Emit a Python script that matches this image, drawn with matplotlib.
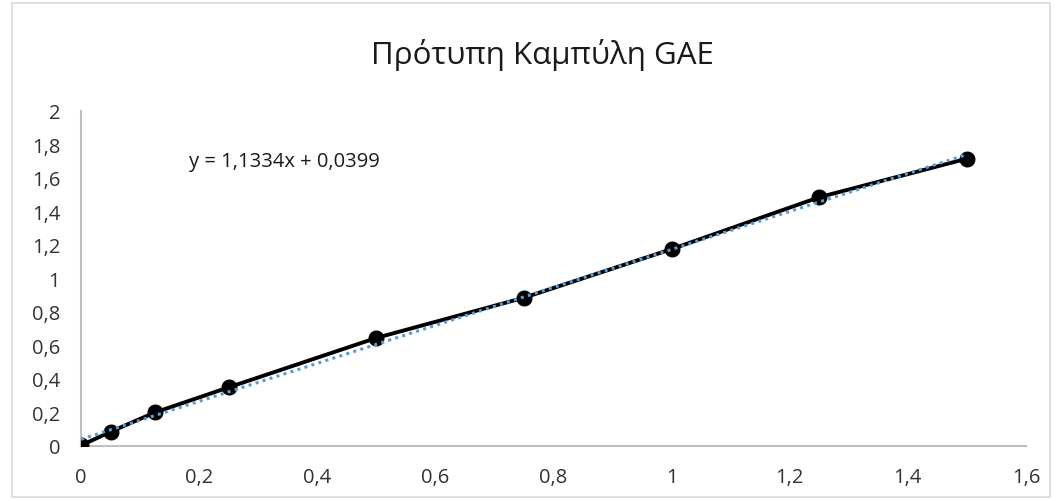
import numpy as np
import matplotlib
matplotlib.use("Agg")
import matplotlib.pyplot as plt
from matplotlib.patches import Rectangle

plt.rcParams['font.family'] = ['Open Sans', 'DejaVu Sans']

# data
conc = [0, 0.05, 0.125, 0.25, 0.5, 0.75, 1.0, 1.25, 1.5]
absorb = [0.003, 0.085, 0.2, 0.35, 0.645, 0.885, 1.175, 1.485, 1.715]
slope = 1.1334
intercept = 0.0399
x_ticks = [0, 0.2, 0.4, 0.6, 0.8, 1.0, 1.2, 1.4, 1.6]
y_ticks = [0, 0.2, 0.4, 0.6, 0.8, 1.0, 1.2, 1.4, 1.6, 1.8, 2.0]

def comma(v):
    s = ('%.1f' % v).rstrip('0').rstrip('.')
    return s.replace('.', ',')

fig = plt.figure(figsize=(10.62, 5.02), dpi=100)
ax = fig.add_axes([0.0763, 0.1096, 0.8897, 0.6674])

# outer chart border
fig.patches.append(Rectangle((0.011, 0.008), 0.978, 0.984, transform=fig.transFigure,
                             fill=False, edgecolor='#d9d9d9', linewidth=1.2))

ax.plot(conc, absorb, color='black', linewidth=2.8, marker='o', markersize=10.5,
        zorder=3, solid_capstyle='round')

xt = np.array([min(conc), max(conc)])
ax.plot(xt, slope * xt + intercept, color='#5b9bd5', linewidth=2.2,
        linestyle=(0, (1, 1.4)), zorder=4)

ax.set_xlim(0, 1.6)
ax.set_ylim(0, 2)
ax.set_xticks(x_ticks)
ax.set_yticks(y_ticks)
ax.set_xticklabels([comma(v) for v in x_ticks])
ax.set_yticklabels([comma(v) for v in y_ticks])
ax.tick_params(length=0, labelsize=14.5, colors='#333333')
ax.tick_params(axis='x', pad=15)
ax.tick_params(axis='y', pad=15)

for s in ['top', 'right']:
    ax.spines[s].set_visible(False)
for s in ['left', 'bottom']:
    ax.spines[s].set_color('#bfbfbf')
    ax.spines[s].set_linewidth(1.5)

fig.text(0.511, 0.89, 'Πρότυπη Καμπύλη GAE', ha='center', va='center',
         fontsize=22.5, color='#1a1a1a')
ax.text(0.183, 1.70, 'y = 1,1334x + 0,0399', fontsize=14.5, color='#1a1a1a',
        va='center', ha='left')

fig.savefig('out.png', dpi=100)
